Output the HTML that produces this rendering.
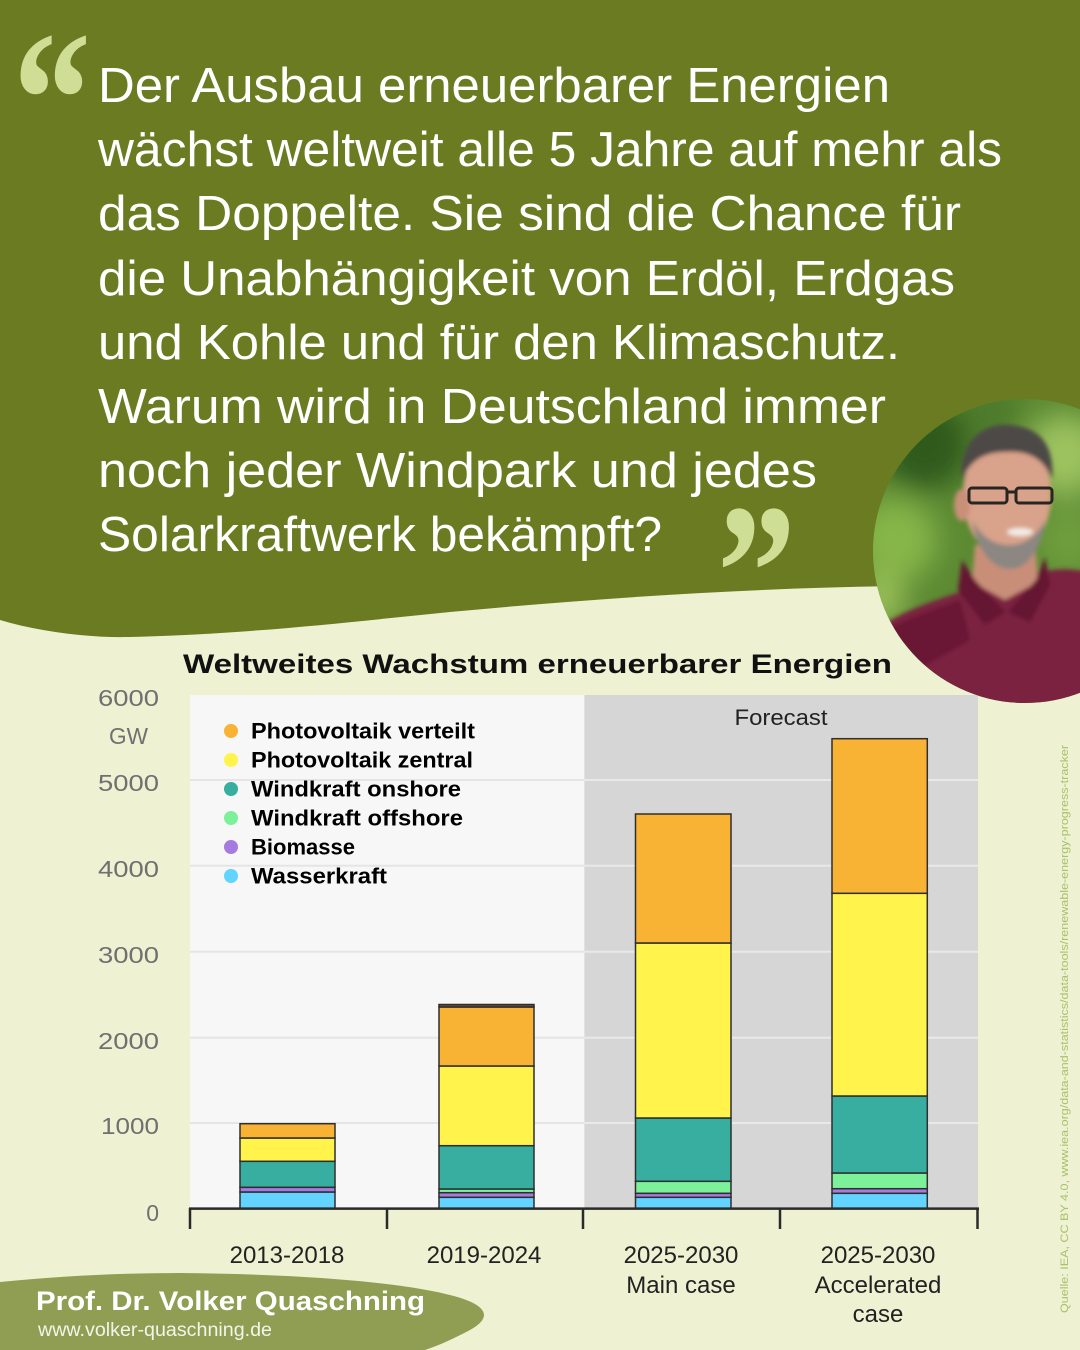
<!DOCTYPE html>
<html><head><meta charset="utf-8"><style>
html,body{margin:0;padding:0;background:#EEF2D2;}
svg{display:block;}
</style></head><body>
<svg width="1080" height="1350" viewBox="0 0 1080 1350" xmlns="http://www.w3.org/2000/svg">
<defs>
<clipPath id="pc"><circle cx="1025" cy="551" r="152"/></clipPath>
<filter id="bl" x="-50%" y="-50%" width="200%" height="200%"><feGaussianBlur stdDeviation="14"/></filter>
<filter id="bl2" x="-50%" y="-50%" width="200%" height="200%"><feGaussianBlur stdDeviation="2"/></filter>
</defs>
<rect x="0" y="0" width="1080" height="1350" fill="#EEF2D2"/>
<!-- top green -->
<path d="M0,0 L1080,0 L1080,586 L900,586 C750,588 600,598 450,612 C350,622 250,634 130,637 C90,638 40,632 0,620 Z" fill="#6B7B22"/>
<!-- quote marks -->
<text x="13" y="165" font-family="Liberation Serif, serif" font-weight="bold" font-size="195" fill="#CEDE94" textLength="78" lengthAdjust="spacingAndGlyphs">“</text>
<text x="717" y="638" font-family="Liberation Serif, serif" font-weight="bold" font-size="195" fill="#CEDE94" textLength="79" lengthAdjust="spacingAndGlyphs">”</text>
<!-- quote text -->
<g font-family="Liberation Sans, sans-serif" font-size="49" fill="#FFFFFF">
<text x="98" y="102" textLength="792" lengthAdjust="spacingAndGlyphs">Der Ausbau erneuerbarer Energien</text>
<text x="98" y="166" textLength="904" lengthAdjust="spacingAndGlyphs">wächst weltweit alle 5 Jahre auf mehr als</text>
<text x="98" y="230" textLength="863" lengthAdjust="spacingAndGlyphs">das Doppelte.  Sie sind die Chance für</text>
<text x="98" y="295" textLength="857" lengthAdjust="spacingAndGlyphs">die Unabhängigkeit von Erdöl, Erdgas</text>
<text x="98" y="359" textLength="802" lengthAdjust="spacingAndGlyphs">und Kohle und für den Klimaschutz.</text>
<text x="98" y="423" textLength="788" lengthAdjust="spacingAndGlyphs">Warum wird in Deutschland immer</text>
<text x="98" y="487" textLength="719" lengthAdjust="spacingAndGlyphs">noch jeder Windpark und jedes</text>
<text x="98" y="551" textLength="564" lengthAdjust="spacingAndGlyphs">Solarkraftwerk bekämpft?</text>
</g>
<!-- title -->
<text x="183" y="673" font-family="Liberation Sans, sans-serif" font-weight="bold" font-size="27" fill="#111" textLength="709" lengthAdjust="spacingAndGlyphs">Weltweites Wachstum erneuerbarer Energien</text>
<!-- plot backgrounds -->
<rect x="190" y="695" width="394.4" height="513.6" fill="#F7F7F7"/>
<rect x="584.4" y="695" width="393.6" height="513.6" fill="#D6D6D6"/>
<!-- gridlines -->
<g stroke-width="2">
<line x1="190" x2="584.4" y1="1123" y2="1123" stroke="#E5E5E5"/>
<line x1="190" x2="584.4" y1="1037.7" y2="1037.7" stroke="#E5E5E5"/>
<line x1="190" x2="584.4" y1="951.7" y2="951.7" stroke="#E5E5E5"/>
<line x1="190" x2="584.4" y1="865.7" y2="865.7" stroke="#E5E5E5"/>
<line x1="190" x2="584.4" y1="780" y2="780" stroke="#E5E5E5"/>
<line x1="584.4" x2="978" y1="1123" y2="1123" stroke="#E9E9E9"/>
<line x1="584.4" x2="978" y1="1037.7" y2="1037.7" stroke="#E9E9E9"/>
<line x1="584.4" x2="978" y1="951.7" y2="951.7" stroke="#E9E9E9"/>
<line x1="584.4" x2="978" y1="865.7" y2="865.7" stroke="#E9E9E9"/>
<line x1="584.4" x2="978" y1="780" y2="780" stroke="#E9E9E9"/>
</g>
<text x="781" y="725" text-anchor="middle" font-family="Liberation Sans, sans-serif" font-size="22" fill="#222" textLength="93" lengthAdjust="spacingAndGlyphs">Forecast</text>
<!-- bars -->
<g stroke="#2E2E2E" stroke-width="1.5">
<!-- bar 1 -->
<rect x="240" y="1192" width="95" height="16.6" fill="#63D3FF"/>
<rect x="240" y="1187.3" width="95" height="4.7" fill="#A57BE0"/>
<rect x="240" y="1161.3" width="95" height="26" fill="#37AE9F"/>
<rect x="240" y="1138" width="95" height="23.3" fill="#FFF34C"/>
<rect x="240" y="1123.7" width="95" height="14.3" fill="#F8B335"/>
<!-- bar 2 -->
<rect x="439" y="1197.3" width="95" height="11.3" fill="#63D3FF"/>
<rect x="439" y="1192.7" width="95" height="4.6" fill="#A57BE0"/>
<rect x="439" y="1189" width="95" height="3.7" fill="#7DF09A"/>
<rect x="439" y="1145.7" width="95" height="43.3" fill="#37AE9F"/>
<rect x="439" y="1066" width="95" height="79.7" fill="#FFF34C"/>
<rect x="439" y="1007" width="95" height="59" fill="#F8B335"/>
<rect x="439" y="1004.5" width="95" height="2.5" fill="#7A4A2A"/>
<!-- bar 3 -->
<rect x="635.5" y="1197.3" width="95.5" height="11.3" fill="#63D3FF"/>
<rect x="635.5" y="1193.3" width="95.5" height="4" fill="#A57BE0"/>
<rect x="635.5" y="1181.3" width="95.5" height="12" fill="#7DF09A"/>
<rect x="635.5" y="1118" width="95.5" height="63.3" fill="#37AE9F"/>
<rect x="635.5" y="943" width="95.5" height="175" fill="#FFF34C"/>
<rect x="635.5" y="814" width="95.5" height="129" fill="#F8B335"/>
<!-- bar 4 -->
<rect x="832" y="1193.3" width="95.3" height="15.3" fill="#63D3FF"/>
<rect x="832" y="1188.7" width="95.3" height="4.6" fill="#A57BE0"/>
<rect x="832" y="1173" width="95.3" height="15.7" fill="#7DF09A"/>
<rect x="832" y="1096" width="95.3" height="77" fill="#37AE9F"/>
<rect x="832" y="893.3" width="95.3" height="202.7" fill="#FFF34C"/>
<rect x="832" y="738.7" width="95.3" height="154.6" fill="#F8B335"/>
</g>
<!-- axis -->
<g stroke="#2A2A2A" stroke-width="2.5">
<line x1="189" x2="979" y1="1208.6" y2="1208.6"/>
<line x1="190" x2="190" y1="1208" y2="1229"/>
<line x1="387" x2="387" y1="1208" y2="1229"/>
<line x1="583" x2="583" y1="1208" y2="1229"/>
<line x1="780" x2="780" y1="1208" y2="1229"/>
<line x1="977.5" x2="977.5" y1="1208" y2="1229"/>
</g>
<!-- y labels -->
<g font-family="Liberation Sans, sans-serif" font-size="23" fill="#707070" text-anchor="end">
<text x="159" y="706" textLength="61" lengthAdjust="spacingAndGlyphs">6000</text>
<text x="159" y="791" textLength="61" lengthAdjust="spacingAndGlyphs">5000</text>
<text x="159" y="877" textLength="61" lengthAdjust="spacingAndGlyphs">4000</text>
<text x="159" y="963" textLength="61" lengthAdjust="spacingAndGlyphs">3000</text>
<text x="159" y="1049" textLength="61" lengthAdjust="spacingAndGlyphs">2000</text>
<text x="159" y="1134" textLength="58" lengthAdjust="spacingAndGlyphs">1000</text>
<text x="159" y="1221">0</text>
<text x="148" y="744" textLength="39" lengthAdjust="spacingAndGlyphs">GW</text>
</g>
<!-- x labels -->
<g font-family="Liberation Sans, sans-serif" font-size="24" fill="#222" text-anchor="middle">
<text x="287" y="1263">2013-2018</text>
<text x="484" y="1263">2019-2024</text>
<text x="681" y="1263">2025-2030</text>
<text x="681" y="1293">Main case</text>
<text x="878" y="1263">2025-2030</text>
<text x="878" y="1293">Accelerated</text>
<text x="878" y="1322">case</text>
</g>
<!-- legend -->
<g>
<circle cx="231" cy="731" r="7" fill="#F8B335"/>
<circle cx="231" cy="760" r="7" fill="#FFF34C"/>
<circle cx="231" cy="789" r="7" fill="#37AE9F"/>
<circle cx="231" cy="818" r="7" fill="#7DF09A"/>
<circle cx="231" cy="847" r="7" fill="#A57BE0"/>
<circle cx="231" cy="876" r="7" fill="#63D3FF"/>
</g>
<g font-family="Liberation Sans, sans-serif" font-weight="bold" font-size="22" fill="#000">
<text x="251" y="738.5" textLength="224" lengthAdjust="spacingAndGlyphs">Photovoltaik verteilt</text>
<text x="251" y="767.5" textLength="222" lengthAdjust="spacingAndGlyphs">Photovoltaik zentral</text>
<text x="251" y="796.5" textLength="210" lengthAdjust="spacingAndGlyphs">Windkraft onshore</text>
<text x="251" y="825.5" textLength="212" lengthAdjust="spacingAndGlyphs">Windkraft offshore</text>
<text x="251" y="854.5" textLength="104" lengthAdjust="spacingAndGlyphs">Biomasse</text>
<text x="251" y="883.5" textLength="136" lengthAdjust="spacingAndGlyphs">Wasserkraft</text>
</g>
<!-- photo -->
<g clip-path="url(#pc)">
<rect x="860" y="390" width="230" height="330" fill="#5C8A33"/>
<g filter="url(#bl)">
<circle cx="925" cy="445" r="45" fill="#2F5A1E"/>
<circle cx="1065" cy="455" r="40" fill="#9CC25E"/>
<circle cx="895" cy="540" r="42" fill="#86B548"/>
<circle cx="1070" cy="540" r="35" fill="#6E9D3C"/>
<circle cx="990" cy="410" r="30" fill="#4E7A2A"/>
<circle cx="880" cy="600" r="25" fill="#9ABF58"/>
</g>
<g filter="url(#bl2)">
<!-- shirt -->
<path d="M860,650 C880,615 930,603 965,590 L990,580 L1040,572 C1060,568 1075,568 1095,574 L1095,720 L860,720 Z" fill="#7A2040"/>
<path d="M870,640 C900,620 935,610 960,600 L970,640 L900,680 Z" fill="#6A1834"/>
<!-- neck -->
<path d="M975,545 L1035,545 L1038,582 L1005,600 L972,582 Z" fill="#C98E78"/>
<!-- collar -->
<path d="M962,560 L975,580 L1005,612 L985,625 L958,590 Z" fill="#651730"/>
<path d="M1045,557 L1036,580 L1008,612 L1030,622 L1050,585 Z" fill="#651730"/>
<!-- face -->
<ellipse cx="1007" cy="495" rx="44" ry="62" fill="#D9A28A"/>
<ellipse cx="962" cy="505" rx="8" ry="16" fill="#C99078"/>
<!-- hair -->
<path d="M962,480 C958,440 985,422 1010,425 C1040,427 1055,445 1052,480 C1045,460 1030,450 1005,452 C985,452 970,460 962,480 Z" fill="#4E4A47"/>
<!-- beard -->
<path d="M972,520 C978,555 995,570 1012,569 C1030,568 1042,545 1045,520 C1035,540 1020,545 1010,545 C995,545 982,538 972,520 Z" fill="#8C8782"/>
<!-- mouth -->
<ellipse cx="1020" cy="532" rx="13" ry="4" fill="#F2EDE6"/>
</g>
<!-- glasses -->
<g fill="none" stroke="#2A2522" stroke-width="3">
<rect x="969" y="488" width="38" height="15" rx="3"/>
<rect x="1016" y="488" width="36" height="15" rx="3"/>
<line x1="1007" y1="492" x2="1016" y2="492"/>
</g>
</g>
<!-- bottom name blob -->
<path d="M0,1282 C60,1276 120,1273 180,1273 C300,1274 400,1282 450,1295 C490,1305 492,1318 470,1330 C455,1338 440,1345 425,1350 L0,1350 Z" fill="#8F9E52"/>
<text x="36" y="1310" font-family="Liberation Sans, sans-serif" font-weight="bold" font-size="27" fill="#FFFFFF" textLength="389" lengthAdjust="spacingAndGlyphs">Prof. Dr. Volker Quaschning</text>
<text x="38" y="1336" font-family="Liberation Sans, sans-serif" font-size="19" fill="#F4F4EA" textLength="234" lengthAdjust="spacingAndGlyphs">www.volker-quaschning.de</text>
<!-- source -->
<text transform="translate(1068,1313) rotate(-90)" font-family="Liberation Sans, sans-serif" font-size="11" fill="#A9C06E" textLength="568" lengthAdjust="spacingAndGlyphs">Quelle: IEA,  CC BY 4.0,  www.iea.org/data-and-statistics/data-tools/renewable-energy-progress-tracker</text>
</svg>
</body></html>
